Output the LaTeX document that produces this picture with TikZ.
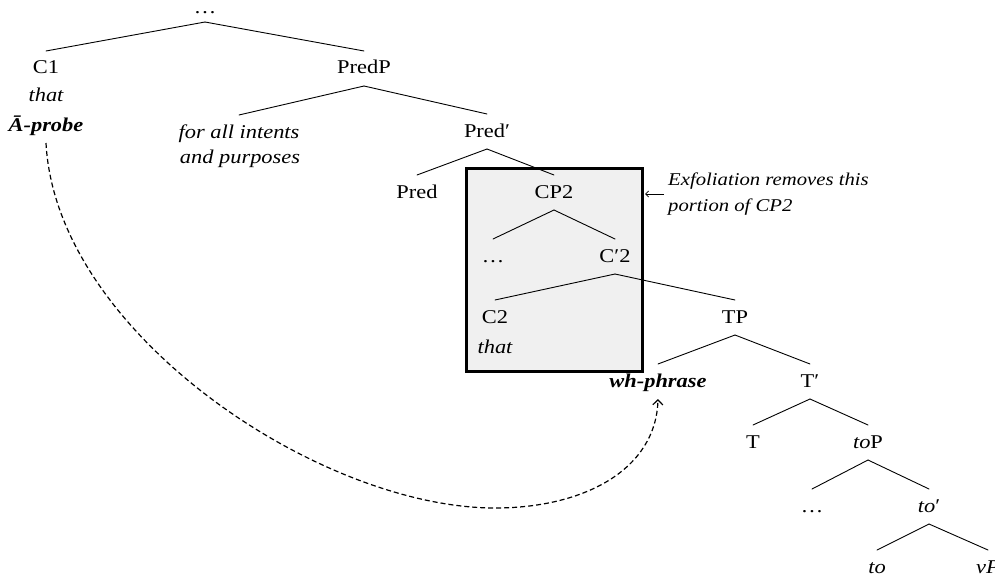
\documentclass[tikz,border=0pt]{standalone}
\usepackage{fontspec}
\setmainfont{Liberation Serif}
\usetikzlibrary{arrows.meta}
\begin{document}
\begin{tikzpicture}[x=1pt,y=-1pt,
  tn/.style={anchor=base, inner sep=0pt, outer xsep=0pt, outer ysep=9pt,
    text height=14pt, text depth=3pt, font=\fontsize{19.5}{25}\selectfont,
    xscale=1.15, transform shape},
  branch/.style={line width=0.9pt, line cap=round},
  exbox/.style={draw, line width=2.5pt, fill=black!6, minimum width=176pt,
    minimum height=203pt, inner sep=0pt, outer sep=0pt},
  note/.style={anchor=west, inner sep=0pt, align=left,
    font=\fontsize{18}{26}\selectfont\itshape, xscale=1.15, transform shape},
  move/.style={line width=1.2pt, dash pattern=on 5pt off 3pt,
    -{Straight Barb[length=5pt,width=10pt,line width=1.2pt]}},
  pointer/.style={line width=0.8pt, -{Straight Barb[length=3pt,width=6pt]}}]
\useasboundingbox (0,0) rectangle (995,578);
% shaded box
\node[exbox] (box) at (554.5,270) {};
% nodes
\node[tn, text height=4pt, outer ysep=5pt] (d0) at (205,14) {…};
\node[tn] (c1) at (46,74) {C1};
\node[tn] (that1) at (46,101) {\itshape that};
\node[tn] (apr) at (46,131) {\bfseries\itshape Ā-probe};
\node[tn] (predp) at (364,74) {PredP};
\node[tn] (fai) at (239,138) {\itshape for all intents};
\node[tn] (ap) at (240,163) {\itshape and purposes};
\node[tn] (predbar) at (487,137) {Pred′};
\node[tn] (pred) at (417,198) {Pred};
\node[tn] (cp2) at (554,198) {CP2};
\node[tn] (d1) at (493,262) {…};
\node[tn] (cbar) at (615,262) {C′2};
\node[tn] (c2) at (495,323) {C2};
\node[tn] (that2) at (495,353) {\itshape that};
\node[tn] (tp) at (735,323) {TP};
\node[tn] (wh) at (658,387) {\bfseries\itshape wh-phrase};
\node[tn] (tbar) at (810,387) {T′};
\node[tn] (t) at (753,448) {T};
\node[tn] (top) at (868,448) {\textit{to}P};
\node[tn] (d2) at (812,512) {…};
\node[tn] (tobar) at (929,512) {\textit{to}′};
\node[tn] (to) at (877,573) {\itshape to};
\node[tn] (vp) at (988,573) {\itshape vP};
\node[note] (ann) at (668,194) {Exfoliation removes this\\portion of CP2};
\coordinate (bot) at (495,508);
% branches
\draw[branch] (d0.south) -- (c1.north);
\draw[branch] (d0.south) -- (predp.north);
\draw[branch] (predp.south) -- (fai.north);
\draw[branch] (predp.south) -- (predbar.north);
\draw[branch] (predbar.south) -- (pred.north);
\draw[branch] (predbar.south) -- (cp2.north);
\draw[branch] (cp2.south) -- (d1.north);
\draw[branch] (cp2.south) -- (cbar.north);
\draw[branch] (cbar.south) -- (c2.north);
\draw[branch] (cbar.south) -- (tp.north);
\draw[branch] (tp.south) -- (wh.north);
\draw[branch] (tp.south) -- (tbar.north);
\draw[branch] (tbar.south) -- (t.north);
\draw[branch] (tbar.south) -- (top.north);
\draw[branch] (top.south) -- (d2.north);
\draw[branch] (top.south) -- (tobar.north);
\draw[branch] (tobar.south) -- (to.north);
\draw[branch] (tobar.south) -- (vp.north);
% annotation arrow
\draw[pointer] ([xshift=-4pt]ann.west) -- ([xshift=2.5pt]box.east |- ann.west);
% movement arrow
\draw[move] (apr.south) .. controls +(10,190) and +(-175,0) .. (bot)
  .. controls +(90,0) and +(-2,70) .. (wh.south);
\end{tikzpicture}
\end{document}
